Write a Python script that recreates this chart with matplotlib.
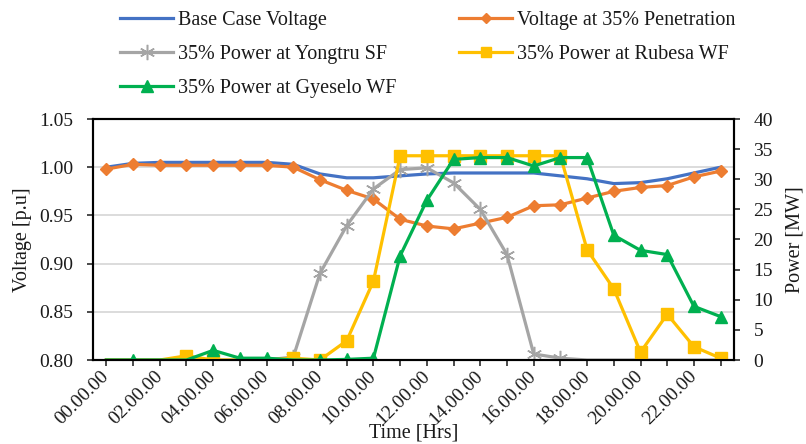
import matplotlib
matplotlib.use("Agg")
import matplotlib.pyplot as plt
from matplotlib.lines import Line2D
import numpy as np

plt.rcParams['font.family'] = ['Liberation Serif', 'DejaVu Serif']

hours = [f"{h:02d}.00.00" for h in range(24)]

# left axis, voltage [p.u]
base_voltage = [1.000, 1.004, 1.005, 1.005, 1.005, 1.005, 1.005, 1.003, 0.993, 0.989,
                0.989, 0.991, 0.993, 0.994, 0.994, 0.994, 0.994, 0.991, 0.988, 0.983,
                0.984, 0.988, 0.994, 1.000]
voltage_35 = [0.998, 1.003, 1.002, 1.002, 1.002, 1.002, 1.002, 1.000, 0.987, 0.976,
              0.967, 0.946, 0.939, 0.936, 0.942, 0.948, 0.960, 0.961, 0.968, 0.975,
              0.979, 0.981, 0.990, 0.996]

# right axis, power [MW]
yongtru_sf = [0, 0, 0, 0, 0, 0, 0, 0.5, 14.4, 22.3, 28.4, 31.6, 31.9, 29.4, 25.0, 17.5,
              1.0, 0.3, 0, 0, 0, 0, 0, 0]
rubesa_wf = [0, 0, 0, 0.7, 0, 0, 0, 0.3, 0, 3.2, 13.1, 33.9, 33.9, 33.9, 33.9, 33.9,
             33.9, 33.9, 18.3, 11.8, 1.3, 7.6, 2.2, 0.3]
gyeselo_wf = [0, 0, 0, 0, 1.6, 0.3, 0.3, 0, 0, 0.1, 0.3, 17.3, 26.5, 33.3, 33.6, 33.6,
              32.2, 33.6, 33.6, 20.7, 18.2, 17.5, 8.9, 7.2]

# which points show a marker in the original
yongtru_marks = list(range(7, 18))
rubesa_marks = [i for i in range(24) if i not in (0, 1, 2, 5, 6)]
gyeselo_marks = [i for i in range(24) if i not in (0, 2, 3, 7)]

c_blue = "#4472C4"
c_orange = "#ED7D31"
c_grey = "#A5A5A5"
c_yellow = "#FFC000"
c_green = "#00B050"
txt = "#1a1a1a"
fs = 14.5

x = np.arange(len(hours))

fig = plt.figure(figsize=(8.06, 4.44), dpi=100)
ax = fig.add_axes([93/806, 1-360/444, (734-93)/806, (360-119)/444])
ax2 = ax.twinx()

ax.plot(x, base_voltage, color=c_blue, lw=2.3)
ax.plot(x, voltage_35, color=c_orange, lw=2.3, marker='D', ms=6.5)

ax2.plot(x, yongtru_sf, color=c_grey, lw=2.3, marker=(6, 2, 0), ms=11, mew=1.1,
         markevery=yongtru_marks)
ax2.plot(x, rubesa_wf, color=c_yellow, lw=2.3, marker='s', ms=8, markevery=rubesa_marks)
ax2.plot(x, gyeselo_wf, color=c_green, lw=2.3, marker='^', ms=9, markevery=gyeselo_marks)

ax.set_xlim(-0.5, 23.5)
ax.set_ylim(0.80, 1.05)
ax.set_yticks(np.arange(0.80, 1.0501, 0.05))
ax.set_yticklabels([f"{v:.2f}" for v in np.arange(0.80, 1.0501, 0.05)])
ax2.set_ylim(0, 40)
ax2.set_yticks(range(0, 41, 5))

ax.set_xticks(x)
ax.set_xticklabels([h if i % 2 == 0 else "" for i, h in enumerate(hours)],
                   rotation=45, ha='right', va='center', rotation_mode='anchor')

ax.yaxis.grid(True, color='#D9D9D9', lw=1.3)
ax.set_axisbelow(True)

for a in (ax, ax2):
    for s in a.spines.values():
        s.set_color('black')
        s.set_linewidth(1.5)
    a.tick_params(labelsize=fs - 0.5, colors=txt, length=4, width=1.1)
    a.tick_params(axis='y', pad=10)
ax.tick_params(axis='x', pad=6)

ax.set_ylabel("Voltage [p.u]", fontsize=fs, color=txt, labelpad=5)
ax2.set_ylabel("Power [MW]", fontsize=fs, color=txt, labelpad=9)
ax.set_xlabel("Time [Hrs]", fontsize=fs, color=txt)
ax.xaxis.set_label_coords(0.5, -0.265)

handles = [
    Line2D([], [], color=c_blue, lw=2.3),
    Line2D([], [], color=c_grey, lw=2.3, marker=(6, 2, 0), ms=11, mew=1.1),
    Line2D([], [], color=c_green, lw=2.3, marker='^', ms=8),
    Line2D([], [], color=c_orange, lw=2.3, marker='D', ms=5.5),
    Line2D([], [], color=c_yellow, lw=2.3, marker='s', ms=7),
]
labels = ["Base Case Voltage", "35% Power at Yongtru SF", "35% Power at Gyeselo WF",
          "Voltage at 35% Penetration", "35% Power at Rubesa WF"]
leg = fig.legend(handles, labels, loc='upper left', bbox_to_anchor=(120/806, 1-11/444),
                 ncol=2, frameon=False, handlelength=2.64, handletextpad=0.25,
                 columnspacing=3.1, labelspacing=0.75, borderpad=0, borderaxespad=0,
                 prop={'size': fs})
for t in leg.get_texts():
    t.set_color(txt)

fig.savefig("out.png", dpi=100)
